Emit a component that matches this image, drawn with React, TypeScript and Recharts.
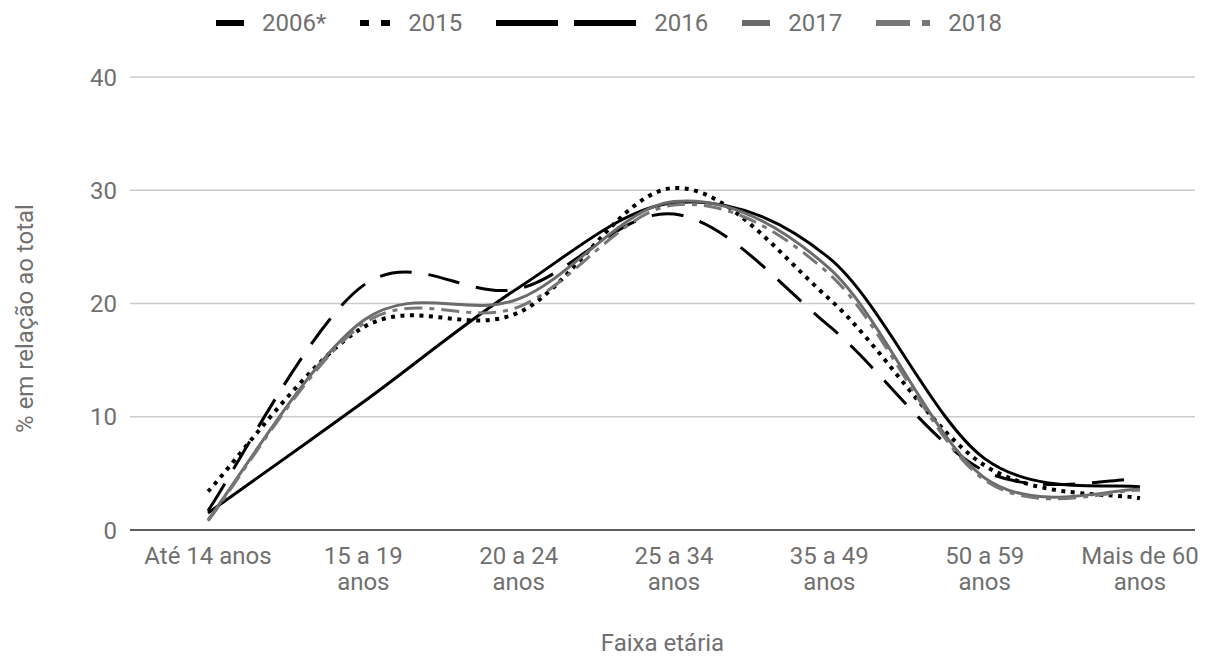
import React from 'react';
import { LineChart, Line, XAxis, YAxis, CartesianGrid, Label } from 'recharts';

// faixas etárias (eixo x) e as linhas de cada rótulo
const ageGroups = ['Até 14 anos', '15 a 19 anos', '20 a 24 anos', '25 a 34 anos', '35 a 49 anos', '50 a 59 anos', 'Mais de 60 anos'];
const tickLines = [['Até 14 anos'], ['15 a 19', 'anos'], ['20 a 24', 'anos'], ['25 a 34', 'anos'], ['35 a 49', 'anos'], ['50 a 59', 'anos'], ['Mais de 60', 'anos']];
const yTicks = [0, 10, 20, 30, 40];

// % em relação ao total, por ano
const v2006 = [1.7, 21.6, 21.3, 27.9, 18.0, 5.2, 4.5];
const v2015 = [3.4, 17.9, 19.2, 30.2, 20.4, 5.7, 2.8];
const v2016 = [1.5, 11.3, 21.4, 28.9, 24.0, 6.3, 3.8];
const v2017 = [0.9, 18.5, 20.4, 29.0, 23.1, 4.6, 3.6];
const v2018 = [0.8, 18.2, 19.7, 28.7, 22.6, 4.4, 3.5];

const data = ageGroups.map((g, i) => ({
  faixa: g,
  y2006: v2006[i],
  y2015: v2015[i],
  y2016: v2016[i],
  y2017: v2017[i],
  y2018: v2018[i],
}));

const series = [
  { key: 'y2006', name: '2006*', color: '#000', width: 3, dash: '32 17', icon: { w: 28, dash: undefined } },
  { key: 'y2015', name: '2015', color: '#000', width: 4, dash: '4 5.5', icon: { w: 30, dash: '9 12' } },
  { key: 'y2016', name: '2016', color: '#000', width: 3, dash: undefined, icon: { w: 140, dash: '62 16' } },
  { key: 'y2017', name: '2017', color: '#6b6b6b', width: 3, dash: undefined, icon: { w: 28, dash: undefined } },
  { key: 'y2018', name: '2018', color: '#777', width: 3, dash: '18 7 5 7', icon: { w: 54, dash: '34 12 8 100' } },
];

const textColor = '#707070';
const font = 'Roboto, "Noto Sans", sans-serif';

// curva suave tipo Catmull-Rom (passa pelos pontos)
const smoothCurve = (context: any) => {
  let pts: number[][] = [];
  return {
    areaStart() {},
    areaEnd() {},
    lineStart() {
      pts = [];
    },
    point(x: number, y: number) {
      pts.push([+x, +y]);
    },
    lineEnd() {
      if (!pts.length) return;
      context.moveTo(pts[0][0], pts[0][1]);
      for (let i = 0; i < pts.length - 1; i++) {
        const p0 = pts[Math.max(i - 1, 0)];
        const p1 = pts[i];
        const p2 = pts[i + 1];
        const p3 = pts[Math.min(i + 2, pts.length - 1)];
        context.bezierCurveTo(
          p1[0] + (p2[0] - p0[0]) / 6,
          p1[1] + (p2[1] - p0[1]) / 6,
          p2[0] - (p3[0] - p1[0]) / 6,
          p2[1] - (p3[1] - p1[1]) / 6,
          p2[0],
          p2[1]
        );
      }
    },
  };
};

const AgeTick = (props: any) => {
  const { x, y, payload } = props;
  const lines = tickLines[payload.index] || [payload.value];
  return (
    <text x={x} y={y} textAnchor="middle" fill={textColor} fontSize={24} fontFamily={font}>
      {lines.map((l: string, i: number) => (
        <tspan key={i} x={x} y={y + 34 + i * 26}>{l}</tspan>
      ))}
    </text>
  );
};

const YTitle = (props: any) => {
  const { viewBox } = props;
  const cx = 25;
  const cy = viewBox.y + viewBox.height / 2 + 15;
  return (
    <text
      x={cx}
      y={cy}
      transform={`rotate(-90, ${cx}, ${cy})`}
      textAnchor="middle"
      dominantBaseline="central"
      fill={textColor}
      fontSize={24}
      fontFamily={font}
    >
      % em relação ao total
    </text>
  );
};

const ChartLegend = () => (
  <div
    style={{
      position: 'absolute',
      top: 9,
      left: 216,
      display: 'flex',
      alignItems: 'center',
      gap: 34,
      fontFamily: font,
      fontSize: 24,
      color: textColor,
      lineHeight: '28px',
    }}
  >
    {series.map((s) => (
      <div key={s.key} style={{ display: 'flex', alignItems: 'center', gap: 18 }}>
        <svg width={s.icon.w} height={10}>
          <line x1={0} y1={5} x2={s.icon.w} y2={5} stroke={s.color} strokeWidth={6} strokeDasharray={s.icon.dash} />
        </svg>
        <span>{s.name}</span>
      </div>
    ))}
  </div>
);

export default function App() {
  return (
    <div style={{ position: 'absolute', top: 0, left: 0, width: 1213, height: 659, background: '#fff' }}>
      <ChartLegend />
      <LineChart width={1213} height={659} data={data} margin={{ top: 77, right: 18, bottom: 0, left: 0 }}>
        <CartesianGrid vertical={false} stroke="#cccccc" strokeWidth={1.5} />
        <XAxis
          dataKey="faixa"
          scale="point"
          padding={{ left: 78, right: 55 }}
          height={129}
          tickSize={0}
          tickMargin={0}
          tick={<AgeTick />}
          axisLine={{ stroke: '#333', strokeWidth: 1.5 }}
          tickLine={false}
          interval={0}
        >
          <Label
            value="Faixa etária"
            position="insideBottom"
            offset={8}
            fill={textColor}
            fontSize={24}
            fontFamily={font}
          />
        </XAxis>
        <YAxis
          width={130}
          domain={[0, 40]}
          ticks={yTicks}
          axisLine={false}
          tickLine={false}
          tickSize={0}
          tickMargin={13}
          tick={{ fill: textColor, fontSize: 24, fontFamily: font }}
        >
          <Label content={<YTitle />} />
        </YAxis>
        {series.map((s) => (
          <Line
            key={s.key}
            dataKey={s.key}
            name={s.name}
            type={smoothCurve as any}
            stroke={s.color}
            strokeWidth={s.width}
            strokeDasharray={s.dash}
            dot={false}
            activeDot={false}
            isAnimationActive={false}
          />
        ))}
      </LineChart>
    </div>
  );
}
